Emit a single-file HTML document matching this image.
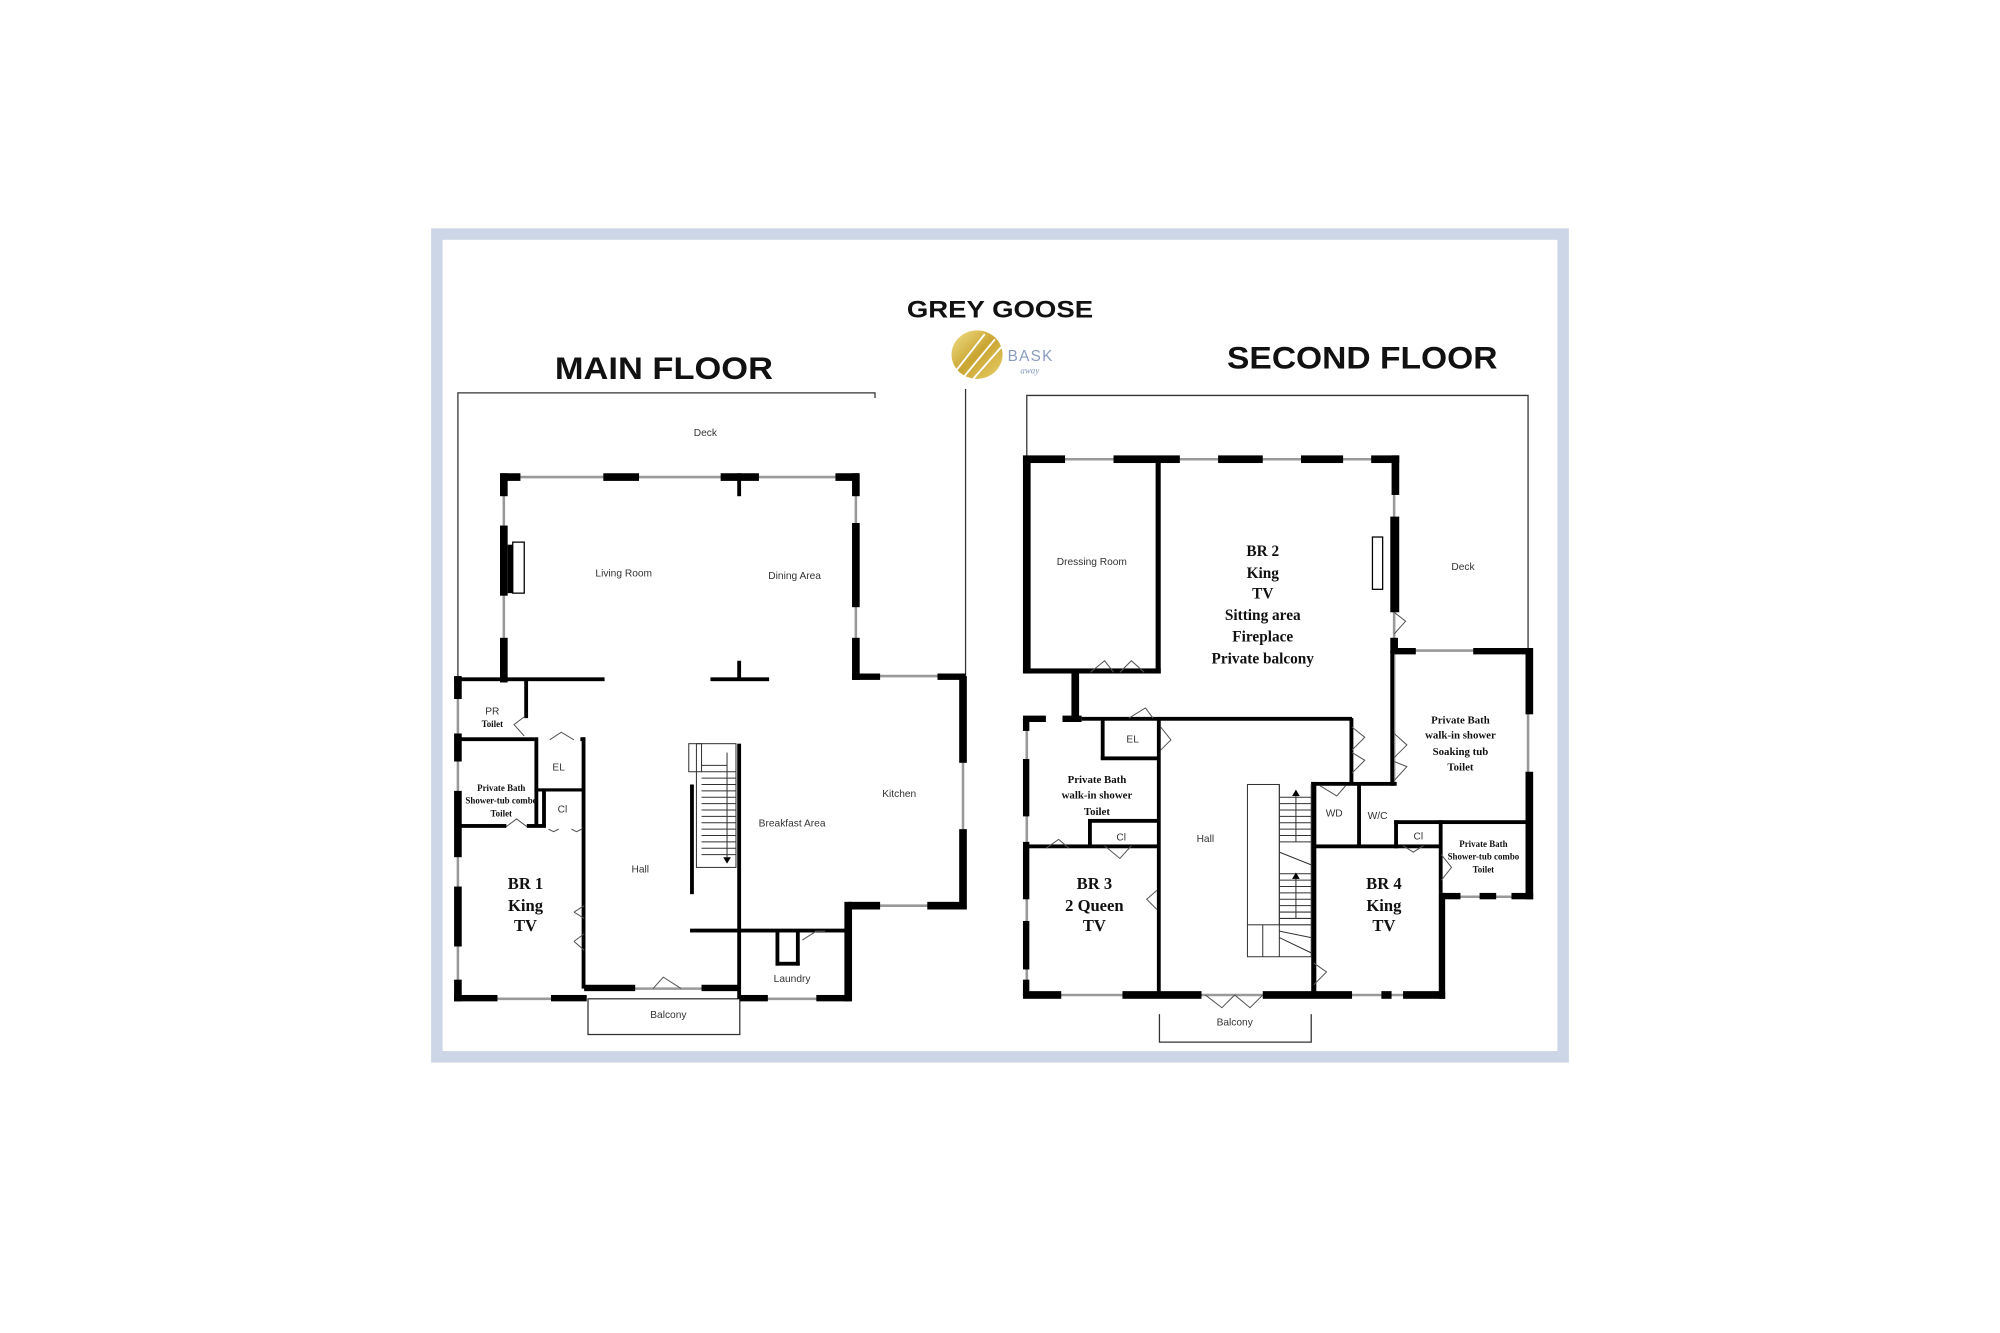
<!DOCTYPE html>
<html><head><meta charset="utf-8"><style>
html,body{margin:0;padding:0;background:#fff;}
svg{display:block;}
.s{font-family:"Liberation Sans",sans-serif;fill:#333;}
.b{font-family:"Liberation Serif",serif;font-weight:bold;fill:#111;}
.h{font-family:"Liberation Sans",sans-serif;font-weight:bold;fill:#111;}
</style></head><body>
<svg width="2000" height="1333" viewBox="0 0 1568 1045" preserveAspectRatio="none" xmlns="http://www.w3.org/2000/svg">
<rect x="0" y="0" width="1568" height="1045" fill="#fff"/>
<rect x="342.5" y="183.5" width="883" height="645" fill="#fff" stroke="#cdd6e6" stroke-width="9"/>

<text class="h" x="435" y="297" font-size="25" textLength="171" lengthAdjust="spacingAndGlyphs">MAIN FLOOR</text>
<text class="h" x="711" y="249" font-size="19" textLength="146" lengthAdjust="spacingAndGlyphs">GREY GOOSE</text>
<text class="h" x="962" y="289" font-size="25" textLength="212" lengthAdjust="spacingAndGlyphs">SECOND FLOOR</text>
<defs><linearGradient id="g" x1="0" y1="0" x2="1" y2="1"><stop offset="0" stop-color="#f3e08a"/><stop offset="0.5" stop-color="#c9a531"/><stop offset="1" stop-color="#e8cf6a"/></linearGradient></defs>
<ellipse cx="766" cy="278" rx="20" ry="19" fill="url(#g)"/>
<g stroke="#fff" stroke-width="1.5"><line x1="750" y1="290" x2="772" y2="262"/><line x1="756" y1="295" x2="780" y2="266"/><line x1="763" y1="297" x2="785" y2="272"/></g>
<text x="790" y="283" font-family="Liberation Sans,sans-serif" font-size="12" fill="#8a9cc0" letter-spacing="1">BASK</text>
<text x="800" y="293" font-family="Liberation Serif,serif" font-style="italic" font-size="7" fill="#8a9cc0">away</text>

<g fill="none" stroke="#333" stroke-width="1">
<polyline points="359,530 359,308 686,308 686,312"/>
<line x1="757" y1="305" x2="757" y2="530"/>
<rect x="461" y="783" width="119" height="28"/>
</g>
<g stroke="#999" stroke-width="2">
<line x1="392" y1="374" x2="673" y2="374"/>
<line x1="395" y1="374" x2="395" y2="535"/>
<line x1="671" y1="374" x2="671" y2="530"/>
<line x1="671" y1="530" x2="757" y2="530"/>
<line x1="755" y1="530" x2="755" y2="712"/>
<line x1="665" y1="710" x2="757" y2="710"/>
<line x1="580" y1="783" x2="667" y2="783"/>
<line x1="359" y1="530" x2="359" y2="783"/>
<line x1="359" y1="783" x2="458" y2="783"/>
<line x1="458" y1="775" x2="580" y2="775"/>
</g>
<g fill="#000">
<rect x="392" y="371" width="16" height="6"/><rect x="392" y="371" width="6" height="18"/>
<rect x="473" y="371" width="28" height="6"/><rect x="565" y="371" width="30" height="6"/><rect x="578" y="371" width="3" height="18"/>
<rect x="655" y="371" width="18" height="6"/><rect x="668" y="371" width="6" height="18"/>
<rect x="392" y="412" width="6" height="55"/><rect x="398" y="427" width="4" height="38"/>
<rect x="392" y="500" width="6" height="35"/>
<rect x="668" y="410" width="6" height="66"/><rect x="668" y="500" width="6" height="33"/>
<rect x="668" y="528" width="22" height="5"/><rect x="735" y="528" width="22" height="5"/>
<rect x="752" y="530" width="6" height="68"/><rect x="752" y="650" width="6" height="63"/>
<rect x="727" y="707" width="30" height="6"/><rect x="665" y="707" width="25" height="6"/>
<rect x="662" y="707" width="6" height="78"/><rect x="640" y="780" width="27" height="5"/><rect x="580" y="780" width="22" height="5"/>
<rect x="356" y="530" width="6" height="18"/><rect x="356" y="575" width="6" height="22"/><rect x="356" y="620" width="6" height="52"/><rect x="356" y="695" width="6" height="47"/><rect x="356" y="768" width="6" height="17"/>
<rect x="356" y="780" width="34" height="5"/><rect x="432" y="780" width="28" height="5"/>
<rect x="458" y="772" width="40" height="5"/><rect x="550" y="772" width="30" height="5"/>
<rect x="356" y="531" width="118" height="3"/><rect x="557" y="531" width="46" height="3"/><rect x="578" y="518" width="3" height="15"/>
<rect x="411" y="533" width="3" height="30"/>
<rect x="359" y="578" width="60" height="3"/><rect x="455" y="578" width="4" height="3"/>
<rect x="419" y="578" width="3" height="70"/><rect x="419" y="618" width="39" height="2.5"/>
<rect x="425" y="620" width="3" height="28"/>
<rect x="456" y="578" width="3" height="197"/>
<rect x="359" y="646" width="38" height="3"/><rect x="413" y="646" width="15" height="3"/>
<rect x="578" y="583" width="3" height="200"/>
<rect x="541" y="615" width="3" height="86"/>
<rect x="541" y="728" width="124" height="3"/>
<rect x="608" y="730" width="3" height="27"/><rect x="624" y="730" width="3" height="27"/><rect x="608" y="754" width="19" height="3"/>
</g>
<rect x="402" y="425" width="9" height="40" fill="none" stroke="#000" stroke-width="1"/>
<g fill="none" stroke="#333" stroke-width="0.8">
<rect x="546" y="583" width="31" height="97"/>
<rect x="540" y="583" width="10" height="22"/>
<path d="M550 600h20M550 605h27M550 610h27M550 615h27M550 620h27M550 625h27M550 630h27M550 635h27M550 640h27M550 645h27M550 650h27M550 655h27M550 660h27M550 665h27M550 670h27"/>
<line x1="570" y1="590" x2="570" y2="672"/>
</g>
<path d="M567 672l3 5 3-5z" fill="#000"/>
<g fill="none" stroke="#555" stroke-width="0.8">
<path d="M411 562 L403 568 L411 577"/>
<path d="M431 580 L440 574 L450 580"/>
<path d="M397 648 L405 642 L413 648"/>
<path d="M450 715 L458 720 M450 715 L458 710 M450 738 L458 745 M450 738 L458 732"/>
<path d="M512 775 L520 766 L534 775"/>
<path d="M629 737 L640 730 L647 730"/>
<path d="M430 650 l4 2 4 -2 M448 650 l4 2 4 -2"/>
</g>
<g class="s" text-anchor="middle" font-size="8">
<text x="553" y="342">Deck</text>
<text x="489" y="452">Living Room</text>
<text x="623" y="454">Dining Area</text>
<text x="386" y="560">PR</text>
<text x="438" y="604">EL</text>
<text x="441" y="637">Cl</text>
<text x="502" y="684">Hall</text>
<text x="621" y="648">Breakfast Area</text>
<text x="705" y="625">Kitchen</text>
<text x="621" y="770">Laundry</text>
<text x="524" y="798">Balcony</text>
</g>
<g class="b" text-anchor="middle" font-size="7">
<text x="386" y="570">Toilet</text>
<text x="393" y="620">Private Bath</text>
<text x="393" y="630">Shower-tub combo</text>
<text x="393" y="640">Toilet</text>
</g>
<g class="b" text-anchor="middle" font-size="13">
<text x="412" y="697">BR 1</text><text x="412" y="714">King</text><text x="412" y="730">TV</text>
</g>

<g fill="none" stroke="#333" stroke-width="1">
<polyline points="805,360 805,310 1198,310 1198,508"/>
<polyline points="909,795 909,817 1028,817 1028,795"/>
</g>
<g stroke="#999" stroke-width="2">
<line x1="803" y1="360" x2="1095" y2="360"/>
<line x1="1093" y1="360" x2="1093" y2="510"/>
<line x1="1093" y1="510" x2="1200" y2="510"/>
<line x1="1198" y1="510" x2="1198" y2="705"/>
<line x1="1130" y1="703" x2="1200" y2="703"/>
<line x1="805" y1="563" x2="805" y2="780"/>
<line x1="803" y1="780" x2="1130" y2="780"/>
<line x1="1060" y1="563" x2="1060" y2="615"/>
<line x1="1093" y1="510" x2="1093" y2="615"/>
</g>
<g fill="#000">
<rect x="802" y="357" width="33" height="6"/><rect x="873" y="357" width="52" height="6"/><rect x="955" y="357" width="35" height="6"/><rect x="1020" y="357" width="33" height="6"/><rect x="1075" y="357" width="22" height="6"/>
<rect x="1091" y="357" width="6" height="31"/><rect x="1090" y="405" width="7" height="75"/><rect x="1090" y="500" width="6" height="12"/>
<rect x="1093" y="508" width="17" height="5"/><rect x="1155" y="508" width="45" height="5"/>
<rect x="1196" y="508" width="6" height="52"/><rect x="1196" y="605" width="6" height="100"/>
<rect x="1130" y="700" width="15" height="5"/><rect x="1160" y="700" width="13" height="5"/><rect x="1185" y="700" width="17" height="5"/>
<rect x="1128" y="700" width="5" height="83"/>
<rect x="802" y="360" width="6" height="168"/><rect x="802" y="524" width="108" height="4"/><rect x="906" y="362" width="4" height="166"/>
<rect x="840" y="526" width="6" height="38"/>
<rect x="802" y="561" width="18" height="5"/><rect x="833" y="561" width="15" height="5"/><rect x="848" y="562" width="212" height="3"/>
<rect x="802" y="563" width="5" height="10"/><rect x="802" y="595" width="5" height="45"/><rect x="802" y="660" width="5" height="45"/><rect x="802" y="722" width="5" height="38"/><rect x="802" y="768" width="5" height="14"/>
<rect x="863" y="563" width="3" height="32"/><rect x="863" y="593" width="45" height="3"/>
<rect x="907" y="563" width="3" height="217"/>
<rect x="805" y="662" width="103" height="3"/><rect x="853" y="643" width="3" height="20"/><rect x="853" y="642" width="55" height="3"/>
<rect x="802" y="777" width="30" height="6"/><rect x="880" y="777" width="62" height="6"/><rect x="990" y="777" width="70" height="6"/><rect x="1083" y="777" width="8" height="6"/><rect x="1100" y="777" width="33" height="6"/>
<rect x="1058" y="563" width="3" height="52"/>
<rect x="1028" y="613" width="67" height="3"/><rect x="1090" y="510" width="3" height="106"/>
<rect x="1028" y="613" width="4" height="167"/>
<rect x="1064" y="615" width="3" height="48"/>
<rect x="1093" y="643" width="107" height="3"/><rect x="1093" y="643" width="3" height="22"/><rect x="1128" y="643" width="3" height="57"/>
<rect x="1030" y="662" width="100" height="3"/>
</g>
<rect x="1076" y="421" width="8" height="41" fill="none" stroke="#000" stroke-width="1"/>
<g fill="none" stroke="#333" stroke-width="0.8">
<rect x="978" y="615" width="25" height="110"/>
<path d="M1003 615v135M1028 615v135M1003 625h25M1003 630h25M1003 635h25M1003 640h25M1003 645h25M1003 650h25M1003 655h25M1003 660h25M1003 668l25 10M1003 685h25M1003 690h25M1003 695h25M1003 700h25M1003 705h25M1003 710h25M1003 715h25M1003 720h25M1003 725h25M978 725v25h50M990 725v25M1003 730l25 5M1003 735l25 12"/>
<line x1="1016" y1="620" x2="1016" y2="660"/><line x1="1016" y1="685" x2="1016" y2="720"/>
</g>
<path d="M1013 624l3-5 3 5z M1013 689l3-5 3 5z" fill="#000"/>
<g fill="none" stroke="#555" stroke-width="0.8">
<path d="M855 527 L866 518 L873 527 M878 527 L887 518 L897 527"/>
<path d="M885 563 L898 555 L904 563"/>
<path d="M910 570 L918 580 L910 588"/>
<path d="M1060 570 L1070 578 L1060 588 M1060 590 L1070 596 L1060 606"/>
<path d="M1093 575 L1103 584 L1093 594 M1093 597 L1103 601 L1093 612"/>
<path d="M1093 480 L1102 487 L1093 497"/>
<path d="M1035 616 L1048 624 L1055 616"/>
<path d="M820 665 L830 658 L838 665 M866 663 L878 673 L887 663"/>
<path d="M907 698 L899 705 L907 713"/>
<path d="M1030 755 L1040 762 L1030 772"/>
<path d="M1100 663 L1108 668 L1116 663"/>
<path d="M1130 670 L1138 680 L1130 690"/>
<path d="M945 780 L958 790 L968 780 L980 790 L990 780"/>
</g>
<g class="s" text-anchor="middle" font-size="8">
<text x="856" y="443">Dressing Room</text>
<text x="1147" y="447">Deck</text>
<text x="888" y="582">EL</text>
<text x="879" y="659">Cl</text>
<text x="945" y="660">Hall</text>
<text x="1046" y="640">WD</text>
<text x="1080" y="642">W/C</text>
<text x="1112" y="658">Cl</text>
<text x="968" y="804">Balcony</text>
</g>
<g class="b" text-anchor="middle" font-size="12">
<text x="990" y="436">BR 2</text><text x="990" y="453">King</text><text x="990" y="469">TV</text>
<text x="990" y="486">Sitting area</text><text x="990" y="503">Fireplace</text><text x="990" y="520">Private balcony</text>
</g>
<g class="b" text-anchor="middle" font-size="8.5">
<text x="1145" y="567">Private Bath</text><text x="1145" y="579">walk-in shower</text><text x="1145" y="592">Soaking tub</text><text x="1145" y="604">Toilet</text>
<text x="860" y="614">Private Bath</text><text x="860" y="626">walk-in shower</text><text x="860" y="639">Toilet</text>
</g>
<g class="b" text-anchor="middle" font-size="7">
<text x="1163" y="664">Private Bath</text><text x="1163" y="674">Shower-tub combo</text><text x="1163" y="684">Toilet</text>
</g>
<g class="b" text-anchor="middle" font-size="13">
<text x="858" y="697">BR 3</text><text x="858" y="714">2 Queen</text><text x="858" y="730">TV</text>
<text x="1085" y="697">BR 4</text><text x="1085" y="714">King</text><text x="1085" y="730">TV</text>
</g>
</svg>
</body></html>
